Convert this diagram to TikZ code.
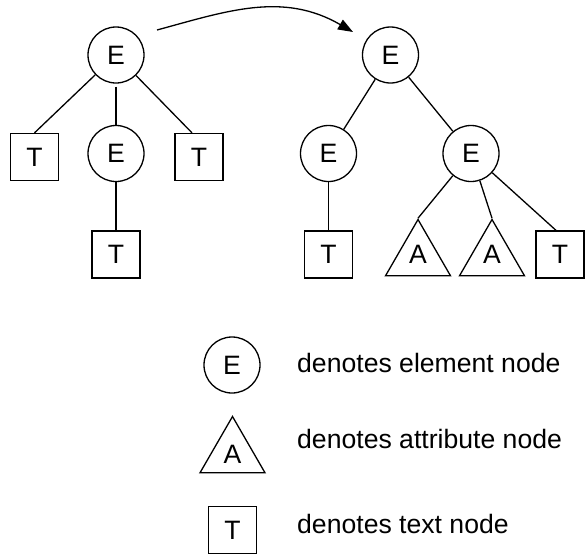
\documentclass[tikz,border=0pt]{standalone}
\usepackage{fontspec}
\setmainfont{Liberation Sans}
\usetikzlibrary{shapes.geometric,arrows.meta,calc}
\tikzset{
  every node/.style={font=\fontsize{26.6}{31}\selectfont},
  circ/.style={circle,draw,line width=1.3pt,minimum size=56pt,inner sep=0pt},
  tbox/.style={rectangle,draw,line width=1.3pt,minimum width=48pt,minimum height=47pt,inner sep=0pt},
  tri/.style={regular polygon,regular polygon sides=3,draw,line width=1.3pt,minimum size=75pt,inner sep=0pt},
  edge/.style={line width=1.3pt},
  legtext/.style={anchor=base west,inner sep=0pt}
}
\begin{document}
\begin{tikzpicture}[x=1pt,y=-1pt]
\useasboundingbox (0,0) rectangle (585,555);
% left tree
\node[circ] (r) at (116,55) {E};
\node[tbox] (t1) at (34.5,157) {T};
\node[circ] (e1) at (116,153.5) {E};
\node[tbox] (t2) at (199,157) {T};
\node[tbox] (t3) at (116,254.5) {T};
\draw[edge] (r) -- (t1.north);
\draw[edge,shorten <=3pt] (r) -- (e1);
\draw[edge] (r) -- ($(t2.north)+(-7,0)$);
\draw[edge] (e1) -- (t3);
% right tree
\node[circ] (R) at (390.5,55) {E};
\node[circ] (L) at (328.5,153.5) {E};
\node[circ] (M) at (471,153.5) {E};
\node[tbox] (t4) at (328.5,254.5) {T};
\node[tri] (a1) at (418,257) {\raisebox{6pt}{A}};
\node[tri] (a2) at (492,257) {\raisebox{6pt}{A}};
\node[tbox] (t5) at (560,254.5) {T};
\draw[edge] (R) -- (L);
\draw[edge] (R) -- (M);
\draw[edge] (L) -- (t4);
\draw[edge] (M) -- (a1.corner 1);
\draw[edge] (M) -- (a2.corner 1);
\draw[edge] (M) -- ($(t5.north)+(-4,0)$);
% arrow
\coordinate (as) at (157,30);
\coordinate (ae) at (353,32);
\draw[edge,-{Triangle[length=15pt,width=11pt]}] (as) .. controls (227,11) and (283,-8.6) .. (ae);
% legend
\node[circ] (le) at (232,365) {E};
\node[tri] (la) at (232.5,454) {A};
\node[tbox] (lt) at (232.5,530) {T};
\node[legtext] (lte) at (297,372) {denotes element node};
\node[legtext] (lta) at (297,448) {denotes attribute node};
\node[legtext] (ltt) at (297,533) {denotes text node};
\end{tikzpicture}
\end{document}
